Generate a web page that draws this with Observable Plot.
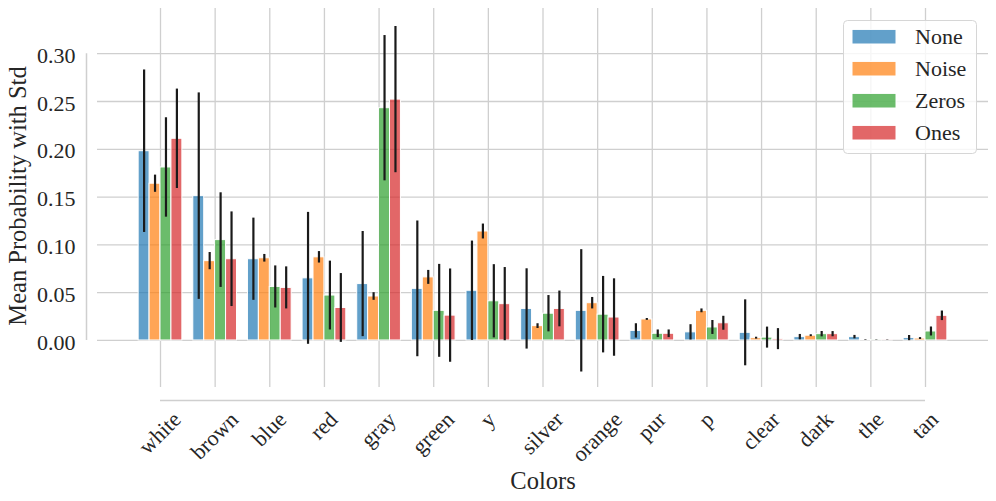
<!DOCTYPE html>
<html>
<head>
<meta charset="utf-8">
<script src="https://cdn.jsdelivr.net/npm/d3@7"></script>
<script src="https://cdn.jsdelivr.net/npm/@observablehq/plot@0.6"></script>
<style>
  html, body { margin: 0; padding: 0; background: #fff; }
  #chart { width: 996px; height: 501px; }
</style>
</head>
<body>
<div id="chart"></div>
<script>
const categories = ["white","brown","blue","red","gray","green","y","silver","orange","pur","p","clear","dark","the","tan"];
const seriesNames = ["None","Noise","Zeros","Ones"];
const seriesColors = ["#1f77b4","#ff7f0e","#2ca02c","#d62728"];

const meanNone  = [0.198,0.151,0.085,0.065,0.059,0.054,0.052,0.033,0.031,0.010,0.0085,0.008,0.0035,0.0035,0.0025];
const stdNone   = [0.085,0.108,0.043,0.069,0.055,0.071,0.052,0.042,0.064,0.0075,0.008,0.0345,0.0028,0.0018,0.0027];
const meanNoise = [0.164,0.083,0.086,0.087,0.046,0.066,0.114,0.015,0.039,0.022,0.031,0.0024,0.005,0.0005,0.002];
const stdNoise  = [0.009,0.009,0.004,0.006,0.004,0.0073,0.0078,0.0025,0.006,0.001,0.002,0.001,0.001,0.0003,0.001];
const meanZeros = [0.181,0.105,0.056,0.047,0.243,0.031,0.041,0.028,0.027,0.007,0.0136,0.003,0.0066,0.0003,0.0094];
const stdZeros  = [0.052,0.0495,0.022,0.036,0.076,0.0486,0.0383,0.019,0.040,0.004,0.0073,0.011,0.0028,0.0002,0.0047];
const meanOnes  = [0.211,0.085,0.055,0.034,0.252,0.026,0.038,0.033,0.024,0.007,0.018,0.0014,0.0066,0.0003,0.0258];
const stdOnes   = [0.052,0.0495,0.022,0.036,0.0765,0.0488,0.0383,0.0187,0.0405,0.004,0.0073,0.011,0.0027,0.0002,0.005];

const yTicks = [0, 0.05, 0.10, 0.15, 0.20, 0.25, 0.30];

const means = [meanNone, meanNoise, meanZeros, meanOnes];
const stds = [stdNone, stdNoise, stdZeros, stdOnes];
const offsets = [-0.3, -0.1, 0.1, 0.3];
const barW = 0.2;

const data = [];
categories.forEach((c, i) => {
  seriesNames.forEach((s, k) => {
    data.push({cat: c, i, series: s, pos: i + offsets[k], mean: means[k][i], std: stds[k][i]});
  });
});

const FONT = "'Liberation Serif', 'Times New Roman', serif";
const TXT = "#262626";
const GRID = "#cfcfcf";

const W = 996, H = 501;
const mL = 97, mR = 8, mT = 8, mB = 114;
const xDom = [-1.153, 15.153];
const yDom = [-0.0492, 0.3473];

const ctx = document.createElement("canvas").getContext("2d");
ctx.font = "22px 'Liberation Serif'";
const tickRows = categories.map((c, i) => {
  const w = ctx.measureText(c).width;
  return {c, i, cy: 410.5 + 0.7071 * (w + 0.7 * 22) / 2};
});

const plot = Plot.plot({
  width: W, height: H,
  marginLeft: mL, marginRight: mR, marginTop: mT, marginBottom: mB,
  style: {fontFamily: FONT, fontSize: "22px", color: TXT, background: "white"},
  x: {type: "linear", domain: xDom, axis: null},
  y: {domain: yDom, axis: null},
  color: {domain: seriesNames, range: seriesColors},
  marks: [
    Plot.gridX({ticks: d3.range(categories.length), stroke: GRID, strokeOpacity: 1, strokeWidth: 1.3}),
    Plot.gridY({ticks: yTicks, stroke: GRID, strokeOpacity: 1, strokeWidth: 1.3}),
    Plot.axisY({ticks: yTicks, tickFormat: d3.format(".2f"), tickSize: 0, tickPadding: 22,
      label: null, fontSize: 22, fill: TXT, dy: 2}),
    Plot.ruleX([xDom[0]], {y1: 0, y2: 0.30, dx: -11, stroke: GRID, strokeWidth: 1.5}),
    Plot.ruleY([yDom[0]], {x1: 0, x2: categories.length - 1, dy: 13, stroke: GRID, strokeWidth: 1.5}),
    Plot.rect(data, {x1: d => d.pos - barW / 2, x2: d => d.pos + barW / 2, y1: 0, y2: "mean",
      fill: "series", fillOpacity: 0.7, stroke: "white", strokeWidth: 1}),
    Plot.ruleX(data, {x: "pos", y1: d => d.mean - d.std, y2: d => d.mean + d.std,
      stroke: "#1a1a1a", strokeWidth: 2.2}),
    Plot.text(["Mean Probability with Std"], {frameAnchor: "left", text: d => d, dx: -79, dy: -2,
      rotate: -90, textAnchor: "middle", lineAnchor: "middle", fontSize: 24.5, fill: TXT}),
    Plot.text(["Colors"], {frameAnchor: "bottom", text: d => d, dy: 94,
      textAnchor: "middle", lineAnchor: "middle", fontSize: 24.5, fill: TXT})
  ]
});

const svg = d3.select(plot);
const xs = d3.scaleLinear().domain(xDom).range([mL, W - mR]);

// x tick labels: rotated 45°, bounding box centred under each category
const tg = svg.append("g").attr("font-family", FONT).attr("font-size", 22).attr("fill", TXT);
tickRows.forEach(r => {
  tg.append("text")
    .attr("transform", `translate(${xs(r.i)},${r.cy}) rotate(-45)`)
    .attr("text-anchor", "middle").attr("dy", "0.32em").text(r.c);
});

// legend (upper right)
const lg = svg.append("g").attr("font-family", FONT).attr("font-size", 22);
lg.append("rect").attr("x", 843.5).attr("y", 20.5).attr("width", 133).attr("height", 133)
  .attr("rx", 4).attr("fill", "white").attr("fill-opacity", 0.8).attr("stroke", "#d6d6d6").attr("stroke-width", 1);
seriesNames.forEach((s, k) => {
  const cy = 36.7 + 32 * k;
  lg.append("rect").attr("x", 852).attr("y", cy - 7.3).attr("width", 44).attr("height", 14.6)
    .attr("fill", seriesColors[k]).attr("fill-opacity", 0.7).attr("stroke", "white").attr("stroke-width", 1);
  lg.append("text").attr("x", 915).attr("y", cy).attr("dy", "0.35em").attr("text-anchor", "start")
    .attr("fill", TXT).text(s);
});

document.getElementById("chart").appendChild(plot);
</script>
</body>
</html>
